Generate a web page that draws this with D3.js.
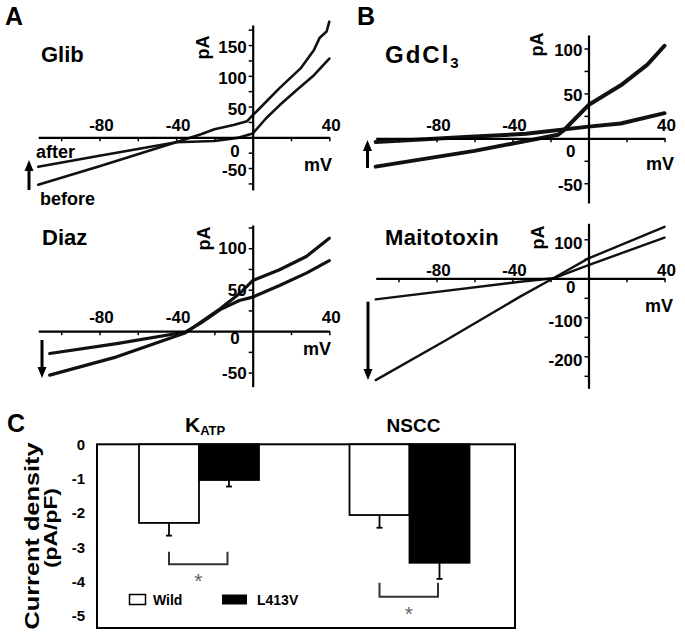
<!DOCTYPE html>
<html><head><meta charset="utf-8">
<script src="https://cdn.jsdelivr.net/npm/d3@7"></script>
<style>
body{margin:0;background:#fff}
svg{display:block}
text{font-family:"Liberation Sans",Arial,sans-serif;font-weight:bold;fill:#000}
</style>
</head><body>
<svg id="c" width="685" height="639"></svg>
<script>
// ---------- DATA ----------
// voltage axis (mV)
const mvDomain = [-112, 40];
const mvTicks = [-100, -80, -60, -40, -20, 0, 20, 40];
const mvLabels = [-80, -40, 40];

// Glib (pA vs mV)
const glibBefore = [[-112,-77],[-80,-47],[-40,-8],[-27,5],[-20,13],[-10,20],[-3,26],[0,36],[2,42],[14,80],[25,112],[32,142],[35,162],[38.6,172],[40,188]];
const glibAfter  = [[-112,-48],[-80,-30],[-40,-8],[-20,-6],[-8,-1],[0,6],[7,31],[14,52],[23,77],[32,101],[40,128]];
const glibYDomain = [-85.7, 182.6];
const glibYTicks = [-75,-50,-25,0,25,50,75,100,125,150,175];
const glibYLabels = [-50,50,100,150];

// Diaz
const diazBefore = [[-106,-27],[-71,-15],[-35,-1],[-27,10],[-17,26],[-7,37],[0,41],[14,55],[28,70],[40,85]];
const diazAfter  = [[-106,-53],[-71,-31],[-35,-2],[-27,11],[-17,27],[-7,45],[0,61],[14,74],[28,90],[40,112]];
const diazYDomain = [-67, 128];
const diazYTicks = [-50,-25,0,25,50,75,100,125];
const diazYLabels = [-50,50,100];

// GdCl3
const gdBefore = [[-112,-31.5],[-60,-14],[-16,4],[-13,9],[0,37],[17,59],[31,82],[40,103]];
const gdAfter  = [[-112,-4],[-60,2],[-33,5],[0,13],[17,16.5],[40,28]];
const gdYDomain = [-72, 115];
const gdYTicks = [-50,-25,0,25,50,75,100];
const gdYLabels = [-50,50,100];

// Maitotoxin
const mtxBefore = [[-112,-54],[-36,-9],[-18.5,0],[0,34],[40,104]];
const mtxAfter  = [[-112,-261],[-75.5,-160],[-36,-47],[-18.5,0],[0,51],[40,132]];
const mtxYDomain = [-282, 141];
const mtxYTicks = [-250,-200,-150,-100,-50,0,50,100];
const mtxYLabels = [-200,-100,100];

// Panel C: current density (pA/pF)
const channels = ["KATP", "NSCC"];
const series = ["Wild", "L413V"];
const wildMean = [-2.29, -2.06];
const wildErr  = [0.37, 0.37];
const mutMean  = [-1.04, -3.45];
const mutErr   = [0.19, 0.47];
const densityTicks = [0, -1, -2, -3, -4, -5];
const densityDomain = [0, -5.35];
const sigTop = [-3.13, -4.03];
const sigBottom = [-3.49, -4.44];

// ---------- LAYOUT ----------
const svg = d3.select("#c");
const FONT = "'Liberation Sans',Arial,sans-serif";

const ivPanels = [
  {title:"Glib", sub:null, before:glibBefore, after:glibAfter, yDomain:glibYDomain, yTicks:glibYTicks, yLabels:glibYLabels,
   L:{x0:38.2, x1:329.3, yB:190, yT:25, lw:2.6, titleX:41, titleY:62, titleSize:22, pAX:209, pAY:47.5, xLabDy:-6.6, zeroDy:19.5, mvDy:34, mvX:332, yLabDy:8, titleLS:0}},
  {title:"Diaz", sub:null, before:diazBefore, after:diazAfter, yDomain:diazYDomain, yTicks:diazYTicks, yLabels:diazYLabels,
   L:{x0:38.2, x1:329.3, yB:386.7, yT:225, lw:3.2, titleX:42, titleY:245, titleSize:22, pAX:210, pAY:238.5, xLabDy:-7.8, zeroDy:13.2, mvDy:24, mvX:331, yLabDy:6, titleLS:0}},
  {title:"GdCl", sub:"3", before:gdBefore, after:gdAfter, yDomain:gdYDomain, yTicks:gdYTicks, yLabels:gdYLabels,
   L:{x0:375.7, x1:664.5, yB:203, yT:35, lw:4, titleX:385, titleY:63, titleSize:24, pAX:543, pAY:44.5, xLabDy:-7.6, zeroDy:18.4, mvDy:31.7, mvX:674, yLabDy:8, titleLS:2}},
  {title:"Maitotoxin", sub:null, before:mtxBefore, after:mtxAfter, yDomain:mtxYDomain, yTicks:mtxYTicks, yLabels:mtxYLabels,
   L:{x0:375.7, x1:664.5, yB:388.3, yT:223.3, lw:2.4, titleX:385, titleY:245, titleSize:22, pAX:544, pAY:237.5, xLabDy:-2.6, zeroDy:15, mvDy:34, mvX:673, yLabDy:10, titleLS:0.4}}
];

function drawIV(p) {
  const L = p.L;
  const x = d3.scaleLinear().domain(mvDomain).range([L.x0, L.x1]);
  const y = d3.scaleLinear().domain(p.yDomain).range([L.yB, L.yT]);
  const g = svg.append("g");
  const X0 = x(0), Y0 = y(0);

  const line = d3.line().x(d => x(d[0])).y(d => y(d[1]));
  [p.before, p.after].forEach(s => {
    g.append("path").attr("d", line(s)).attr("fill","none")
      .attr("stroke","#111").attr("stroke-width", L.lw)
      .attr("stroke-linejoin","round").attr("stroke-linecap","round");
  });

  const xa = g.append("g").attr("transform", `translate(0,${Y0})`)
    .call(d3.axisBottom(x).tickValues(mvTicks.filter(t => t !== 0)).tickSize(4).tickSizeOuter(0).tickFormat(""));
  const ya = g.append("g").attr("transform", `translate(${X0},0)`)
    .call(d3.axisLeft(y).tickValues(p.yTicks.filter(t => t !== 0)).tickSize(4).tickSizeOuter(0).tickFormat(""));
  [xa, ya].forEach(a => {
    a.select(".domain").attr("stroke","#000").attr("stroke-width",2.2);
    a.selectAll(".tick line").attr("stroke","#000").attr("stroke-width",1.5);
  });

  g.selectAll(".xl").data(mvLabels).join("text")
    .attr("x", d => x(d) + 2).attr("y", Y0 + L.xLabDy)
    .attr("text-anchor","middle").attr("font-size",17).text(d => d);
  g.selectAll(".yl").data(p.yLabels).join("text")
    .attr("x", X0 - 6).attr("y", d => y(d) + L.yLabDy)
    .attr("text-anchor","end").attr("font-size",17).text(d => d);
  g.append("text").attr("x", X0 - 13).attr("y", Y0 + L.zeroDy)
    .attr("text-anchor","end").attr("font-size",17).text("0");
  g.append("text").attr("x", L.mvX).attr("y", Y0 + L.mvDy)
    .attr("text-anchor","end").attr("font-size",18).text("mV");
  g.append("text").attr("transform", `translate(${L.pAX},${L.pAY}) rotate(-90)`)
    .attr("text-anchor","middle").attr("font-size",18).text("pA");
  const t = g.append("text").attr("x", L.titleX).attr("y", L.titleY).attr("font-size",L.titleSize)
    .style("letter-spacing", L.titleLS + "px").text(p.title);
  if (p.sub) t.append("tspan").attr("font-size",15).attr("dy",5).style("letter-spacing","0px").text(p.sub);
}
ivPanels.forEach(drawIV);

// arrows
function arrow(xc, yStart, yTip) {
  const dir = yTip < yStart ? -1 : 1;
  const headLen = 11, headW = 4.5;
  svg.append("line").attr("x1",xc).attr("x2",xc).attr("y1",yStart).attr("y2",yTip - dir*headLen + dir*1)
    .attr("stroke","#000").attr("stroke-width",3);
  svg.append("path").attr("d",`M${xc-headW},${yTip - dir*headLen} L${xc+headW},${yTip - dir*headLen} L${xc},${yTip} Z`).attr("fill","#000");
}
arrow(29, 190, 160);
arrow(42, 340, 378);
arrow(367.5, 168, 140);
arrow(368, 301.7, 380);

svg.append("text").attr("x",36).attr("y",158).attr("font-size",18).text("after");
svg.append("text").attr("x",40).attr("y",205).attr("font-size",18).text("before");

svg.append("text").attr("x",5).attr("y",25).attr("font-size",25).text("A");
svg.append("text").attr("x",357).attr("y",25).attr("font-size",25).text("B");
svg.append("text").attr("x",7).attr("y",432).attr("font-size",25).text("C");

// ---------- PANEL C ----------
const cx = d3.scaleBand().domain(channels).range([139, 469.5]).paddingInner(0.43).paddingOuter(0);
const sx = d3.scaleBand().domain(series).range([0, cx.bandwidth()]);
const cy = d3.scaleLinear().domain(densityDomain).range([444.3, 628]);
const gc = svg.append("g");

gc.append("rect").attr("x",97).attr("y",cy(0)).attr("width",418).attr("height",cy(densityDomain[1]) - cy(0))
  .attr("fill","none").attr("stroke","#000").attr("stroke-width",2);

const yaxC = gc.append("g").attr("transform","translate(97,0)")
  .call(d3.axisLeft(cy).tickValues(densityTicks).tickSize(0).tickPadding(12).tickFormat(d => d));
yaxC.select(".domain").remove();
yaxC.selectAll("text").attr("font-size",15).attr("font-family",FONT).attr("font-weight","bold").attr("fill","#000");

const barData = [];
channels.forEach((c,i) => {
  barData.push({c, s:"Wild", v:wildMean[i], e:wildErr[i]});
  barData.push({c, s:"L413V", v:mutMean[i], e:mutErr[i]});
});
gc.selectAll(".bar").data(barData).join("rect")
  .attr("x", d => cx(d.c) + sx(d.s)).attr("width", sx.bandwidth())
  .attr("y", cy(0)).attr("height", d => cy(d.v) - cy(0))
  .attr("fill", d => d.s === "Wild" ? "#fff" : "#000")
  .attr("stroke","#000").attr("stroke-width",1.8);
barData.forEach(d => {
  const xc = cx(d.c) + sx(d.s) + sx.bandwidth()/2;
  gc.append("line").attr("x1",xc).attr("x2",xc).attr("y1",cy(d.v)).attr("y2",cy(d.v - d.e))
    .attr("stroke","#000").attr("stroke-width",1.8);
  gc.append("line").attr("x1",xc-3).attr("x2",xc+3).attr("y1",cy(d.v - d.e)).attr("y2",cy(d.v - d.e))
    .attr("stroke","#000").attr("stroke-width",1.8);
});
channels.forEach((c,i) => {
  const xl = cx(c) + sx("Wild") + sx.bandwidth()/2;
  const xr = cx(c) + sx("L413V") + sx.bandwidth()/2 - 1.5;
  gc.append("path").attr("d",`M${xl},${cy(sigTop[i])} V${cy(sigBottom[i])} H${xr} V${cy(sigTop[i])}`)
    .attr("fill","none").attr("stroke","#333").attr("stroke-width",2);
  gc.append("text").attr("x",(xl+xr)/2).attr("y",cy(sigBottom[i]) + 24)
    .attr("text-anchor","middle").attr("font-size",21)
    .style("font-weight","normal").style("fill","#666").text("*");
});
const kt = gc.append("text").attr("x",185).attr("y",432).attr("font-size",21).text("K");
kt.append("tspan").attr("font-size",13).attr("dy",3).text("ATP");
gc.append("text").attr("x",413.5).attr("y",432).attr("text-anchor","middle").attr("font-size",19).text("NSCC");

gc.append("text").attr("transform","translate(39,536) rotate(-90)").attr("text-anchor","middle")
  .attr("font-size",21).attr("textLength",187).attr("lengthAdjust","spacingAndGlyphs").text("Current density");
gc.append("text").attr("transform","translate(57,528) rotate(-90)").attr("text-anchor","middle")
  .attr("font-size",19).attr("textLength",80).attr("lengthAdjust","spacingAndGlyphs").text("(pA/pF)");

gc.append("rect").attr("x",129.5).attr("y",594.5).attr("width",16).attr("height",10)
  .attr("fill","#fff").attr("stroke","#000").attr("stroke-width",1.5);
gc.append("text").attr("x",153).attr("y",605).attr("font-size",14).text(series[0]);
gc.append("rect").attr("x",222).attr("y",594.5).attr("width",25).attr("height",10).attr("fill","#000");
gc.append("text").attr("x",257).attr("y",605).attr("font-size",14).text(series[1]);
</script>
</body></html>
